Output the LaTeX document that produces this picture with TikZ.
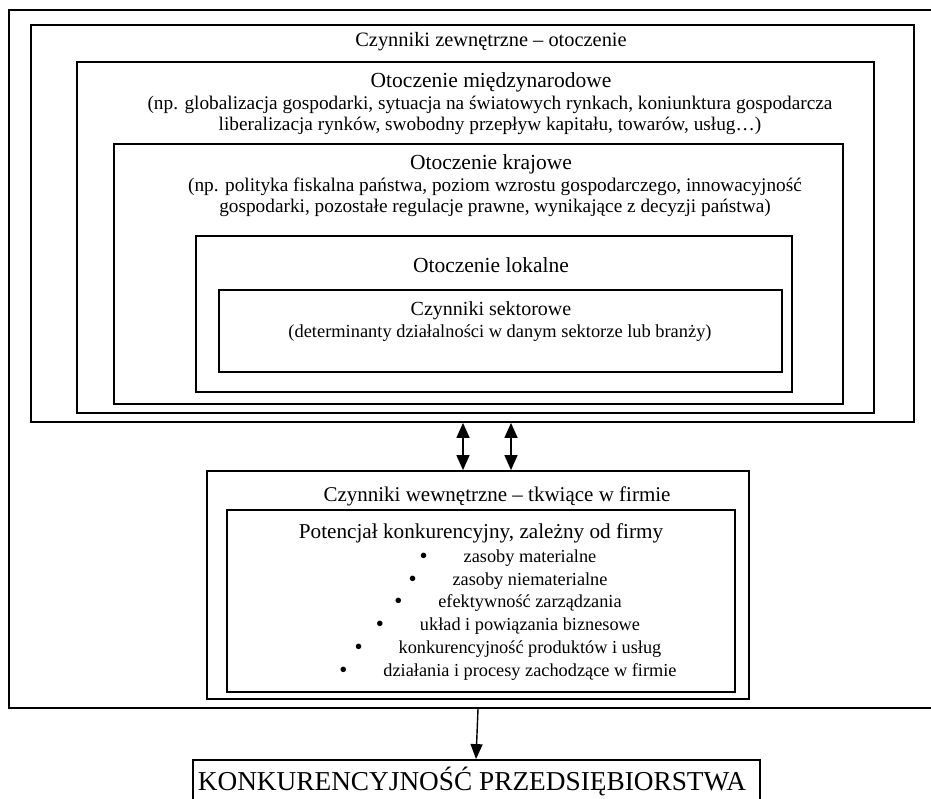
\documentclass[tikz,border=0pt]{standalone}
\usepackage{fontspec}
\setmainfont{Liberation Serif}
\usetikzlibrary{arrows.meta}
\newcommand{\fs}[1]{\fontsize{#1}{21}\selectfont}
\newcommand{\blt}{\makebox[44pt][l]{\raisebox{-1.5pt}{\fontsize{23}{21}\selectfont •}}}
\begin{document}
\begin{tikzpicture}[x=1pt,y=-1pt,
  frame/.style={draw=black, line width=1.8pt, inner sep=0pt, rectangle},
  txt/.style={inner sep=0pt, align=center},
  itm/.style={inner sep=0pt, font=\fs{18.3}},
  dblarrow/.style={line width=1.4pt, {Triangle[length=15pt,width=13pt]}-{Triangle[length=15pt,width=13pt]}},
  onearrow/.style={line width=1.4pt, -{Triangle[length=15pt,width=12pt]}}]
\useasboundingbox (0,0) rectangle (931,798);
\clip (0,0) rectangle (931,798);
% boxes
\node[frame, minimum width=936pt, minimum height=698pt] (O) at (477,359) {};
\node[frame, minimum width=883pt, minimum height=397pt] (A) at (472.5,223.5) {};
\node[frame, minimum width=797pt, minimum height=351pt] (B) at (475.5,237.5) {};
\node[frame, minimum width=729pt, minimum height=260pt] (C) at (478.5,274) {};
\node[frame, minimum width=596pt, minimum height=156pt] (D) at (494,314) {};
\node[frame, minimum width=563pt, minimum height=82pt] (E) at (500.5,331) {};
\node[frame, minimum width=542pt, minimum height=228pt] (F) at (478,585) {};
\node[frame, minimum width=508pt, minimum height=182pt] (G) at (481,601) {};
\node[frame, minimum width=567pt, minimum height=55pt] (H) at (476.5,787.5) {};
% texts
\node[txt, font=\fs{20.4}] (tA) at (491,42) {Czynniki zewnętrzne – otoczenie};
\node[txt, font=\fs{21.5}] (tB) at (491,82) {Otoczenie międzynarodowe};
\node[txt, font=\fs{19.3}] (sB) at (490,115) {(np. globalizacja gospodarki, sytuacja na światowych rynkach, koniunktura gospodarcza\\liberalizacja rynków, swobodny przepływ kapitału, towarów, usług…)};
\node[txt, font=\fs{21.5}] (tC) at (491,164) {Otoczenie krajowe};
\node[txt, font=\fs{19.3}] (sC) at (495,197) {(np. polityka fiskalna państwa, poziom wzrostu gospodarczego, innowacyjność\\gospodarki, pozostałe regulacje prawne, wynikające z decyzji państwa)};
\node[txt, font=\fs{21.5}] (tD) at (491,265) {Otoczenie lokalne};
\node[txt, font=\fs{20}] (tE) at (491,311) {Czynniki sektorowe};
\node[txt, font=\fs{18.4}] (sE) at (500,333) {(determinanty działalności w danym sektorze lub branży)};
\node[txt, font=\fs{21}] (tF) at (497,496) {Czynniki wewnętrzne – tkwiące w firmie};
\node[txt, font=\fs{21.2}] (tG) at (481,533) {Potencjał konkurencyjny, zależny od firmy};
\node[itm] (i1) at (508,558) {\blt zasoby materialne};
\node[itm] (i2) at (508,581) {\blt zasoby niematerialne};
\node[itm] (i3) at (508,603) {\blt efektywność zarządzania};
\node[itm] (i4) at (508,626) {\blt układ i powiązania biznesowe};
\node[itm] (i5) at (508,649) {\blt konkurencyjność produktów i usług};
\node[itm] (i6) at (508,672) {\blt działania i procesy zachodzące w firmie};
\node[txt, font=\fs{27.3}] (tH) at (472,781) {KONKURENCYJNOŚĆ PRZEDSIĘBIORSTWA};
% connectors
\coordinate (a1) at (463,0);
\coordinate (a2) at (511,0);
\coordinate (d1) at (478,0);
\coordinate (d2) at (476,0);
\draw[dblarrow] (A.south -| a1) -- (F.north -| a1);
\draw[dblarrow] (A.south -| a2) -- (F.north -| a2);
\draw[onearrow] (O.south -| d1) -- (H.north -| d2);
\end{tikzpicture}
\end{document}
